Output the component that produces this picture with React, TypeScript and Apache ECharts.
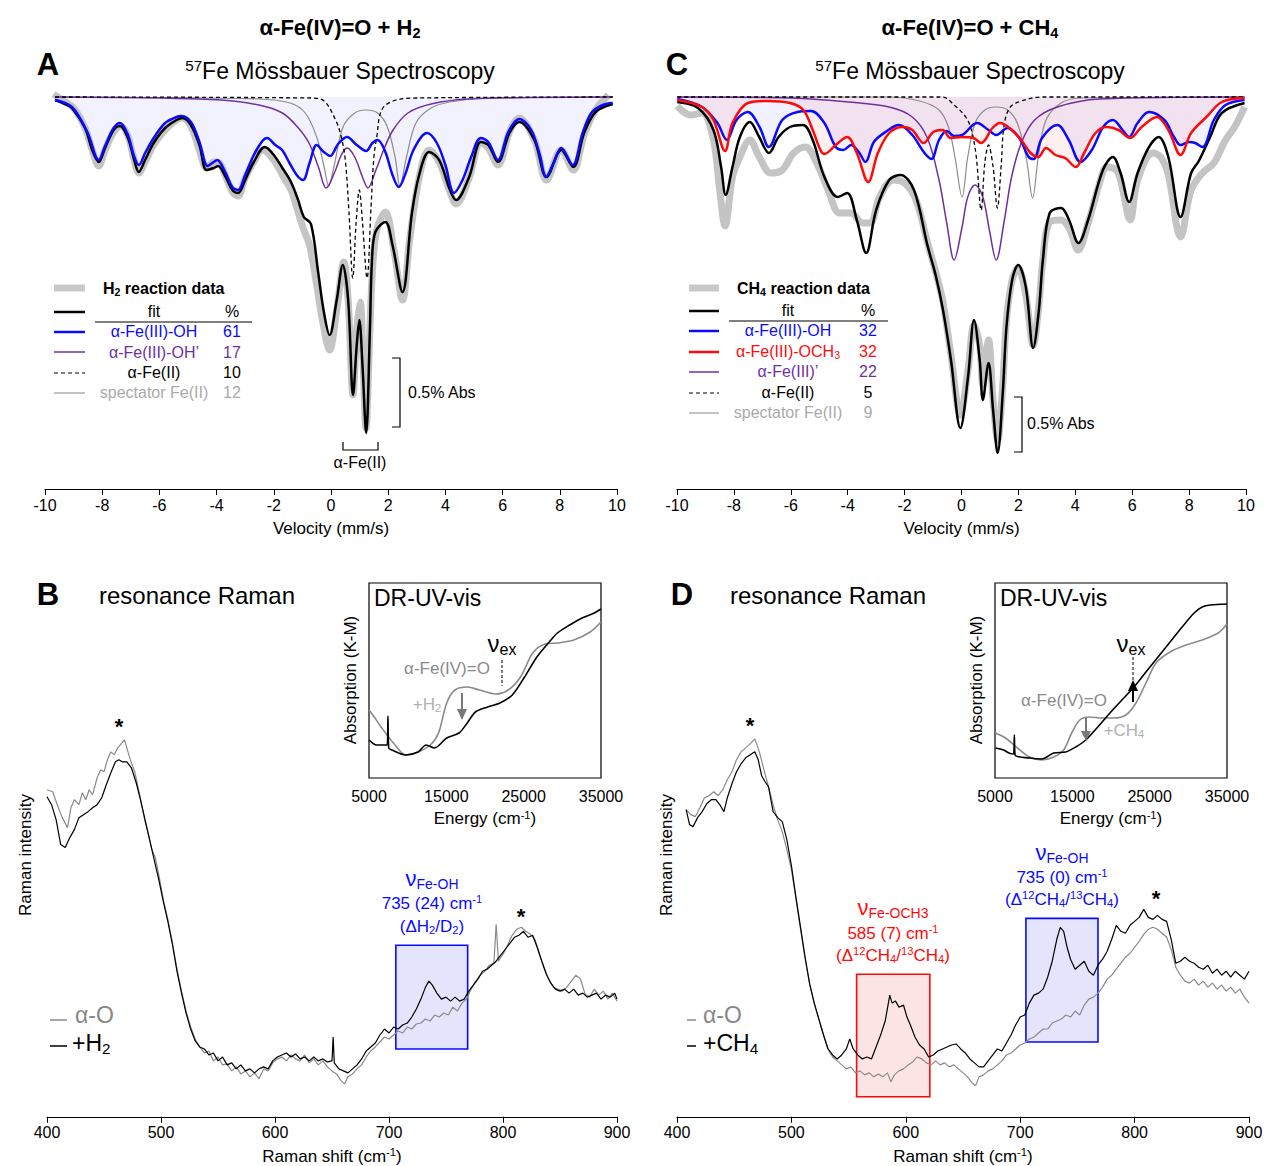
import React, { useEffect, useRef } from "react";
import * as echarts from "echarts";

const FONT = '"Liberation Sans", Arial, Helvetica, sans-serif';
const BLUE = "#0a0aff";
const RED = "#ff0a0a";
const PURPLE = "#7030a0";

// ---------- Panel A (Mössbauer, H2) : [velocity mm/s, absorption depth (a.u.)]
const A_data = [[-9.7,-3],[-9.4,3],[-9.0,11],[-8.6,31],[-8.35,53],[-8.12,69],[-7.9,53],[-7.6,35],[-7.35,29],[-7.1,39],[-6.9,61],[-6.72,76],[-6.5,65],[-6.2,48],[-5.8,33],[-5.4,23],[-5.2,21],[-4.9,29],[-4.6,53],[-4.35,71],[-4.1,65],[-3.9,66],[-3.7,78],[-3.45,95],[-3.25,99],[-3.0,81],[-2.7,65],[-2.4,53],[-2.0,63],[-1.7,78],[-1.4,93],[-1.15,115],[-0.95,133],[-0.75,148],[-0.5,188],[-0.3,223],[-0.05,253],[0.2,213],[0.45,165],[0.6,203],[0.77,298],[0.9,233],[1.02,205],[1.12,263],[1.22,331],[1.36,233],[1.45,173],[1.6,133],[1.9,115],[2.2,153],[2.5,203],[2.75,143],[3.1,78],[3.43,53],[3.78,65],[4.16,95],[4.37,107],[4.83,81],[5.24,45],[5.5,51],[5.84,68],[6.24,35],[6.58,21],[7.11,43],[7.54,83],[8.05,53],[8.47,73],[8.85,38],[9.25,13],[9.7,-2]];
const A_fit = [[-9.65,3],[-9.3,7],[-9.06,11],[-8.6,31],[-8.35,53],[-8.12,65],[-7.9,51],[-7.6,33],[-7.38,29],[-7.1,41],[-6.9,61],[-6.72,75],[-6.5,63],[-6.2,46],[-5.8,31],[-5.4,23],[-5.2,21],[-4.9,28],[-4.6,48],[-4.35,73],[-4.1,71],[-3.95,69],[-3.7,79],[-3.45,93],[-3.25,96],[-3.0,83],[-2.7,65],[-2.31,50],[-2.0,58],[-1.7,71],[-1.4,85],[-1.15,103],[-0.95,120],[-0.7,127],[-0.45,175],[-0.25,215],[-0.05,238],[0.2,203],[0.41,168],[0.6,203],[0.77,298],[0.9,248],[0.99,223],[1.1,268],[1.23,336],[1.36,233],[1.43,165],[1.55,135],[1.9,125],[2.15,148],[2.5,195],[2.83,116],[3.1,76],[3.43,55],[3.78,63],[4.16,93],[4.37,103],[4.83,80],[5.24,45],[5.5,48],[5.84,65],[6.24,36],[6.58,25],[7.11,43],[7.54,80],[8.05,53],[8.47,70],[8.85,36],[9.25,15],[9.85,7]];
const A_OH = [[-9.65,3],[-9.06,10],[-8.52,35],[-8.12,63],[-7.9,49],[-7.6,31],[-7.38,26],[-7.1,38],[-6.9,58],[-6.72,68],[-6.5,56],[-6.2,41],[-5.8,26],[-5.4,20],[-5.24,19],[-4.9,25],[-4.6,45],[-4.31,69],[-4.1,65],[-3.98,63],[-3.7,75],[-3.45,90],[-3.25,93],[-3.0,78],[-2.7,58],[-2.4,44],[-2.24,41],[-1.95,48],[-1.71,53],[-1.45,66],[-1.2,78],[-0.98,83],[-0.75,66],[-0.5,48],[-0.25,55],[-0.03,59],[0.25,47],[0.56,40],[0.9,48],[1.23,54],[1.45,46],[1.63,43],[1.9,55],[2.15,78],[2.37,90],[2.6,77],[2.9,52],[3.36,36],[3.7,46],[4.0,68],[4.3,96],[4.6,83],[4.9,60],[5.24,41],[5.5,45],[5.84,63],[6.2,35],[6.58,22],[7.0,33],[7.3,58],[7.52,80],[7.8,65],[8.05,51],[8.45,68],[8.8,36],[9.1,16],[9.5,8],[9.85,6]];
const A_OHp = [[-9.65,0],[-6,1],[-3.85,3],[-2.52,8],[-1.7,16],[-1.17,30],[-0.77,46],[-0.44,70],[-0.17,91],[0.16,73],[0.36,58],[0.56,51],[0.83,60],[1.1,80],[1.29,91],[1.57,73],[1.84,53],[2.17,33],[2.69,16],[3.5,7],[4.82,2],[9.85,0]];
const A_FeII = [[-9.65,0],[-0.7,1],[-0.24,4],[0.16,23],[0.36,40],[0.5,63],[0.63,116],[0.76,181],[0.88,125],[0.99,93],[1.1,125],[1.26,181],[1.4,110],[1.5,60],[1.6,40],[1.77,13],[2.17,4],[3.0,1],[9.85,0]];
const A_spec = [[-9.65,0],[-2.53,2],[-1.43,6],[-0.9,16],[-0.5,40],[-0.24,70],[-0.08,89],[0.1,70],[0.42,30],[0.83,16],[1.23,13],[1.63,16],[1.97,30],[2.24,60],[2.41,89],[2.64,60],[2.97,26],[3.5,11],[4.16,5],[5.47,1],[9.85,0]];

// ---------- Panel C (Mössbauer, CH4)
const C_data = [[-9.99,9],[-9.52,18],[-9.12,16],[-8.72,43],[-8.5,93],[-8.31,129],[-8.05,80],[-7.79,60],[-7.44,43],[-7.11,60],[-6.7,76],[-6.3,73],[-5.9,56],[-5.49,50],[-5.09,66],[-4.69,93],[-4.28,116],[-3.88,116],[-3.48,126],[-3.21,126],[-2.88,100],[-2.4,83],[-2.0,86],[-1.6,103],[-1.2,145],[-0.86,180],[-0.65,205],[-0.37,258],[-0.04,318],[0.23,273],[0.44,228],[0.64,248],[0.75,288],[0.95,243],[1.11,303],[1.27,343],[1.45,288],[1.58,223],[1.78,183],[1.99,171],[2.26,198],[2.52,248],[2.72,208],[2.86,163],[3.1,125],[3.5,123],[3.78,131],[4.1,153],[4.45,126],[4.97,75],[5.11,70],[5.5,75],[5.93,123],[6.19,83],[6.73,56],[7.0,60],[7.27,78],[7.7,140],[8.07,93],[8.47,76],[8.87,66],[9.28,43],[9.6,30],[9.95,10]];
const C_fit = [[-9.99,5],[-9.26,11],[-8.72,33],[-8.45,70],[-8.29,98],[-8.05,70],[-7.79,40],[-7.44,25],[-7.11,40],[-6.77,56],[-6.43,40],[-6.03,30],[-5.57,28],[-5.23,43],[-4.82,80],[-4.35,100],[-4.02,96],[-3.68,123],[-3.35,156],[-3.0,113],[-2.54,83],[-2.14,78],[-1.67,93],[-1.2,148],[-0.91,178],[-0.65,213],[-0.37,263],[-0.04,331],[0.23,280],[0.44,223],[0.64,263],[0.75,303],[0.95,266],[1.11,313],[1.27,356],[1.45,296],[1.58,230],[1.78,183],[1.99,168],[2.26,190],[2.52,251],[2.72,213],[2.86,163],[3.1,116],[3.5,111],[3.78,123],[4.11,146],[4.45,123],[4.97,73],[5.32,60],[5.59,76],[5.89,105],[6.19,76],[6.59,50],[6.93,40],[7.27,60],[7.7,120],[8.07,76],[8.34,64],[8.74,40],[9.15,16],[9.95,6]];
const C_OH = [[-9.99,2],[-9.12,10],[-8.58,26],[-8.25,43],[-7.91,23],[-7.51,15],[-7.1,30],[-6.77,50],[-6.3,23],[-5.76,15],[-5.29,14],[-4.82,26],[-4.42,50],[-4.15,53],[-3.88,48],[-3.61,55],[-3.38,65],[-3.08,45],[-2.67,35],[-2.2,28],[-1.73,38],[-1.33,55],[-1.06,62],[-0.79,43],[-0.52,34],[-0.25,39],[0.02,38],[0.55,26],[0.95,33],[1.22,38],[1.62,31],[2.03,41],[2.36,60],[2.54,62],[2.83,41],[3.37,28],[3.77,43],[4.18,65],[4.58,53],[4.98,30],[5.32,23],[5.66,33],[5.89,40],[6.19,26],[6.59,15],[7.13,23],[7.47,40],[7.7,48],[8.0,45],[8.21,46],[8.47,50],[8.87,23],[9.28,8],[9.95,3]];
const C_OCH3 = [[-9.99,3],[-9.12,10],[-8.72,23],[-8.31,54],[-8.05,26],[-7.51,6],[-6.84,4],[-6.03,6],[-5.56,13],[-5.23,33],[-4.96,53],[-4.82,57],[-4.42,48],[-4.02,40],[-3.68,56],[-3.28,85],[-2.94,56],[-2.54,36],[-2.07,30],[-1.73,33],[-1.33,46],[-0.99,35],[-0.66,33],[-0.39,41],[0.02,40],[0.42,41],[0.69,46],[1.09,31],[1.36,26],[1.76,33],[2.1,43],[2.43,56],[2.7,60],[2.97,51],[3.3,58],[3.64,61],[4.02,70],[4.31,56],[4.71,36],[5.11,30],[5.52,33],[5.93,41],[6.33,30],[6.87,20],[7.27,33],[7.7,58],[8.07,36],[8.61,20],[9.15,5],[9.95,1]];
const C_FeIIIp = [[-9.99,0],[-6,1],[-3.97,5],[-2.54,10],[-1.73,20],[-1.2,41],[-0.79,83],[-0.52,126],[-0.26,163],[0.02,130],[0.22,100],[0.48,88],[0.75,100],[0.98,133],[1.22,163],[1.49,126],[1.76,80],[2.1,46],[2.57,23],[3.37,10],[4.85,2],[9.95,0]];
const C_FeII = [[-9.99,0],[-0.66,0],[-0.26,8],[0.15,20],[0.35,33],[0.52,60],[0.69,113],[0.82,66],[0.95,48],[1.11,70],[1.26,111],[1.4,66],[1.49,30],[1.69,11],[2.1,4],[2.83,0],[9.95,0]];
const C_spec = [[-9.99,0],[-2.54,0],[-1.47,4],[-0.79,13],[-0.46,30],[-0.23,60],[0.02,100],[0.22,60],[0.48,26],[0.82,13],[1.22,10],[1.62,13],[1.96,26],[2.27,60],[2.5,101],[2.7,60],[2.97,23],[3.5,6],[4.18,1],[9.95,0]];

// ---------- Panel B (Raman, H2) : [Raman shift cm-1, intensity a.u.]
const B_alphaO = [[400,328],[405,326],[410,310],[413,301],[418,290],[421,310],[424,318],[428,313],[431,325],[434,318],[437,328],[440,323],[444,340],[447,348],[450,346],[453,358],[456,366],[459,363],[462,370],[465,374],[468,378],[471,366],[474,355],[477,346],[480,330],[483,313],[486,296],[489,283],[492,268],[495,260],[498,243],[502,218],[506,198],[510,175],[514,148],[518,126],[522,106],[526,90],[530,78],[534,70],[538,64],[542,66],[546,56],[550,60],[554,52],[558,53],[562,46],[566,50],[570,43],[574,46],[578,40],[582,44],[586,38],[590,48],[594,46],[598,54],[602,58],[606,60],[610,56],[614,62],[618,58],[622,56],[626,62],[630,54],[634,58],[638,52],[642,56],[646,50],[650,46],[654,43],[658,36],[661,33],[664,40],[668,43],[672,48],[676,52],[680,60],[684,66],[688,70],[692,75],[696,80],[700,78],[704,82],[708,86],[712,84],[716,90],[720,88],[724,93],[728,94],[732,98],[736,96],[740,102],[744,100],[748,104],[752,102],[756,110],[760,106],[764,114],[768,118],[772,128],[776,136],[780,142],[784,146],[788,152],[792,154],[794,193],[796,156],[800,163],[804,172],[808,182],[812,188],[816,190],[820,186],[824,183],[828,178],[832,163],[836,150],[840,138],[844,130],[848,128],[852,126],[856,130],[860,136],[864,142],[868,138],[872,123],[876,120],[880,128],[884,122],[888,126],[892,118],[896,124],[900,116]];
const B_H2 = [[400,321],[404,313],[408,298],[412,273],[416,270],[420,280],[424,288],[428,300],[432,303],[436,306],[440,310],[444,313],[448,320],[452,333],[456,345],[460,356],[463,358],[466,356],[470,356],[474,350],[478,336],[482,318],[486,298],[490,278],[494,258],[498,238],[502,216],[506,196],[510,173],[514,146],[518,124],[522,104],[526,88],[530,76],[534,70],[538,68],[542,62],[546,64],[550,56],[554,60],[558,52],[562,54],[566,48],[570,52],[574,46],[578,48],[582,44],[586,48],[590,50],[594,48],[598,56],[602,60],[606,62],[610,64],[614,60],[618,63],[622,58],[626,60],[630,56],[634,60],[638,56],[642,58],[646,55],[650,56],[651,80],[652,54],[656,48],[660,46],[664,44],[668,48],[672,52],[676,58],[680,66],[684,70],[688,74],[692,82],[696,88],[700,84],[704,90],[708,88],[712,92],[716,94],[720,100],[724,108],[728,118],[732,130],[735,136],[738,132],[742,124],[746,118],[750,120],[754,116],[758,120],[762,116],[766,118],[770,126],[774,132],[778,138],[782,146],[786,148],[790,152],[794,156],[798,162],[802,168],[806,174],[810,180],[814,182],[818,186],[822,180],[826,182],[830,170],[834,156],[838,143],[842,134],[846,128],[850,126],[854,128],[858,124],[862,128],[866,122],[870,124],[874,120],[878,122],[882,124],[886,118],[890,122],[894,120],[898,124],[900,118]];
const B_box = [[{ xAxis: 706, yAxis: 68 }, { xAxis: 769, yAxis: 172 }]];

// ---------- Panel D (Raman, CH4)
const D_alphaO = [[408,308],[412,303],[416,301],[420,310],[424,320],[428,322],[432,326],[436,322],[440,328],[444,338],[448,346],[452,358],[456,366],[460,370],[464,374],[468,379],[472,366],[476,348],[480,331],[484,313],[488,298],[492,286],[496,268],[500,248],[504,218],[508,188],[512,158],[516,133],[520,113],[524,98],[528,83],[532,68],[536,60],[540,56],[544,52],[548,48],[552,50],[556,44],[560,46],[564,42],[568,44],[572,40],[576,43],[580,40],[584,44],[587,35],[590,42],[594,46],[598,48],[602,52],[606,55],[610,60],[614,58],[618,54],[622,52],[626,56],[630,52],[634,54],[638,50],[642,52],[646,48],[650,44],[654,40],[658,34],[661,31],[664,40],[668,42],[672,46],[676,48],[680,52],[684,56],[688,62],[692,64],[696,68],[700,72],[704,74],[708,78],[712,80],[716,84],[720,88],[724,88],[728,94],[732,96],[736,98],[740,102],[744,100],[748,106],[752,102],[756,112],[760,118],[764,120],[768,124],[772,130],[776,138],[780,142],[784,148],[788,154],[792,160],[796,164],[800,170],[804,176],[808,183],[812,188],[816,190],[820,188],[824,184],[828,180],[832,168],[836,150],[840,142],[844,136],[848,134],[852,138],[856,132],[860,136],[864,130],[868,134],[872,128],[876,132],[880,126],[884,130],[888,124],[892,128],[896,120],[900,114]];
const D_CH4 = [[408,308],[411,293],[414,291],[418,300],[422,306],[426,314],[430,318],[434,318],[438,312],[441,306],[444,320],[448,334],[452,346],[456,354],[460,360],[464,363],[468,366],[471,358],[474,342],[477,336],[480,331],[484,306],[488,300],[492,296],[496,278],[500,252],[504,220],[508,190],[512,160],[516,133],[520,114],[524,98],[528,82],[532,68],[536,62],[540,58],[544,62],[548,68],[551,78],[554,68],[558,62],[562,58],[566,60],[570,58],[574,70],[578,82],[582,96],[586,122],[588,114],[591,116],[594,110],[598,112],[601,100],[604,92],[608,80],[612,72],[616,68],[620,60],[624,62],[628,66],[632,68],[636,70],[640,72],[644,73],[648,68],[652,64],[656,58],[660,54],[664,50],[668,50],[672,56],[676,62],[680,68],[684,66],[688,74],[692,82],[696,92],[700,100],[704,102],[708,114],[712,122],[716,124],[720,128],[724,140],[728,156],[732,178],[735,190],[738,186],[741,170],[744,158],[748,148],[752,152],[756,156],[760,146],[764,142],[768,152],[772,158],[776,166],[780,178],[784,192],[788,186],[792,184],[796,192],[800,196],[804,200],[808,208],[812,200],[816,198],[820,202],[824,198],[828,196],[832,178],[836,154],[840,156],[844,160],[848,156],[852,154],[856,150],[860,148],[864,152],[868,144],[872,148],[876,142],[880,146],[884,140],[888,146],[892,142],[896,138],[900,146]];
const D_boxOCH3 = [[{ xAxis: 557, yAxis: 20 }, { xAxis: 621, yAxis: 143 }]];
const D_boxOH = [[{ xAxis: 705, yAxis: 75 }, { xAxis: 768, yAxis: 199 }]];

// ---------- Insets (DR-UV-vis): [energy cm-1, K-M a.u.]
const UVB_alphaO = [[5000,68],[5500,63],[6570,51],[8160,35],[9750,23],[11340,26],[12930,33],[13990,45],[15050,75],[16110,88],[17700,91],[19290,88],[21410,84],[23000,88],[24590,101],[26180,125],[27770,134],[29360,135],[31480,138],[33600,146],[35000,156]];
const UVB_H2 = [[5000,38],[6000,33],[7000,33],[7350,33],[7450,62],[7550,30],[7950,28],[9750,23],[11340,26],[12400,33],[13460,30],[15050,40],[16640,45],[17700,55],[18760,66],[20350,71],[21940,75],[23530,83],[25120,101],[26710,121],[28300,136],[29360,145],[30950,153],[32540,160],[34130,165],[35000,169]];
const UVD_alphaO = [[5050,45],[6360,40],[7910,30],[9470,21],[11030,18],[12590,21],[13880,28],[14920,45],[15960,58],[17260,61],[18810,60],[20370,60],[21930,63],[23230,75],[24520,95],[25820,115],[27640,126],[29720,133],[31790,138],[33870,145],[35000,154]];
const UVD_CH4 = [[5050,30],[6100,28],[6800,25],[7400,24],[7500,43],[7600,23],[9470,20],[11030,19],[12590,25],[14140,26],[15440,31],[16740,38],[18290,51],[19860,65],[21410,78],[22970,91],[24520,106],[26080,121],[27640,136],[29200,151],[30750,165],[31790,171],[32840,173],[35000,174]];
const UV_TICKS = [5000, 15000, 25000, 35000];

// ---------- helpers
function rich(fs: number, fill: string, fw: string, subFs?: number) {
  const s = subFs ?? fs * 0.66;
  return {
    sub: { fontSize: s, fontFamily: FONT, fontWeight: fw, fill, color: fill, padding: [fs * 0.5, 0, 0, 0] },
    sup: { fontSize: s, fontFamily: FONT, fontWeight: fw, fill, color: fill, padding: [0, 0, fs * 0.5, 0] },
  };
}
function T(x: number, y: number, text: string, o: any = {}) {
  const fs = o.fs ?? 16;
  const fill = o.fill ?? "#000";
  const fw = o.fw ?? "normal";
  return {
    type: "text", x, y, rotation: o.rot ?? 0, silent: true, z: 100,
    style: {
      text, fontSize: fs, fontFamily: FONT, fontWeight: fw, fill,
      align: o.align ?? "center", verticalAlign: "middle",
      rich: rich(fs, fill, fw, o.subFs),
    },
  };
}
function L(points: number[][], stroke = "#000", lineWidth = 1, dash?: number[]) {
  return {
    type: "polyline", silent: true, z: 100,
    shape: { points },
    style: { stroke, lineWidth, fill: null, lineDash: dash },
  };
}
function P(points: number[][], fill: string) {
  return { type: "polygon", silent: true, z: 100, shape: { points }, style: { fill } };
}

const moss = (data: number[][], xi: number, color: string, width: number, z: number, extra: any = {}) => ({
  type: "line", xAxisIndex: xi, yAxisIndex: xi, data, symbol: "none", smooth: 0.35, z,
  lineStyle: { color, width, ...(extra.lineStyle || {}) }, silent: true,
});
const areaOnly = (data: number[][], xi: number, color: string) => ({
  type: "line", xAxisIndex: xi, yAxisIndex: xi, data, symbol: "none", smooth: 0.35, z: 1,
  lineStyle: { width: 0, opacity: 0 }, areaStyle: { color, origin: "auto" }, silent: true,
});
const raman = (data: number[][], xi: number, color: string, z: number) => ({
  type: "line", xAxisIndex: xi, yAxisIndex: xi, data, symbol: "none", z, silent: true,
  lineStyle: { color, width: 1.2 },
});

export default function App() {
  const ref = useRef<HTMLDivElement>(null);
  useEffect(() => {
    if (!ref.current) return;
    const chart = echarts.init(ref.current, undefined, { renderer: "svg" });
    const axisName = (name: string, gap: number, fs = 17) => ({
      name, nameLocation: "middle", nameGap: gap,
      nameTextStyle: { fontSize: fs, fontFamily: FONT, color: "#000", rich: rich(fs, "#000", "normal") },
    });
    const velAxis = (gi: number) => ({
      type: "value", gridIndex: gi, min: -10, max: 10, interval: 2,
      axisLine: { show: true, onZero: false, lineStyle: { color: "#000", width: 1.2 } },
      axisTick: { show: true, inside: false, length: 6, lineStyle: { color: "#000" } },
      axisLabel: { fontSize: 16, fontFamily: FONT, color: "#000", margin: 8 },
      splitLine: { show: false },
      ...axisName("Velocity (mm/s)", 31),
    });
    const ramAxis = (gi: number) => ({
      type: "value", gridIndex: gi, min: 400, max: 900, interval: 100,
      axisLine: { show: true, onZero: false, lineStyle: { color: "#000", width: 1.2 } },
      axisTick: { show: true, inside: false, length: 6, lineStyle: { color: "#000" } },
      axisLabel: { fontSize: 16, fontFamily: FONT, color: "#000", margin: 8 },
      splitLine: { show: false },
      ...axisName("Raman shift (cm{sup|-1})", 30),
    });
    const uvAxis = (gi: number) => ({
      type: "value", gridIndex: gi, min: 5000, max: 35000,
      axisLine: { show: false },
      axisTick: { show: false },
      axisLabel: {
        fontSize: 16, fontFamily: FONT, color: "#000", margin: 10, customValues: UV_TICKS,
        formatter: (v: number) => String(v),
      },
      splitLine: { show: false },
      ...axisName("Energy (cm{sup|-1})", 31),
    });
    const hidY = (gi: number, min: number, max: number, inverse = false) => ({
      type: "value", gridIndex: gi, min, max, inverse, show: false, splitLine: { show: false },
    });

    const graphic: any[] = [
      // titles
      T(340, 27, "α-Fe(IV)=O + H{sub|2}", { fs: 22, fw: "bold" }),
      T(970, 27, "α-Fe(IV)=O + CH{sub|4}", { fs: 22, fw: "bold" }),
      T(48, 64, "A", { fs: 31, fw: "bold" }),
      T(677, 64, "C", { fs: 31, fw: "bold" }),
      T(340, 71, "{sup|57}Fe Mössbauer Spectroscopy", { fs: 23 }),
      T(970, 71, "{sup|57}Fe Mössbauer Spectroscopy", { fs: 23 }),
      T(48, 594, "B", { fs: 31, fw: "bold" }),
      T(682, 594, "D", { fs: 31, fw: "bold" }),
      T(197, 595, "resonance Raman", { fs: 24 }),
      T(828, 595, "resonance Raman", { fs: 24 }),
      // legend A
      L([[54, 288], [85, 288]], "#c8c8c8", 7),
      T(103, 288, "H{sub|2} reaction data", { fs: 16, fw: "bold", align: "left" }),
      L([[54, 312], [85, 312]], "#000", 2.5),
      T(154, 311, "fit"), T(232, 311, "%"),
      L([[95, 322], [252, 322]], "#000", 1),
      L([[54, 332], [85, 332]], BLUE, 2.5),
      T(154, 331, "α-Fe(III)-OH", { fill: BLUE }), T(232, 331, "61", { fill: BLUE }),
      L([[54, 352], [85, 352]], PURPLE, 1.5),
      T(154, 352, "α-Fe(III)-OH’", { fill: PURPLE }), T(232, 352, "17", { fill: PURPLE }),
      L([[54, 373], [85, 373]], "#000", 1.2, [4, 3]),
      T(154, 372, "α-Fe(II)"), T(232, 372, "10"),
      L([[54, 393], [85, 393]], "#999", 1.2),
      T(154, 392, "spectator Fe(II)", { fill: "#aaa" }), T(232, 392, "12", { fill: "#aaa" }),
      // scale bars A
      L([[392, 358], [400, 358], [400, 427], [392, 427]], "#000", 1.2),
      T(408, 392, "0.5% Abs", { align: "left" }),
      L([[343, 442], [343, 450], [378, 450], [378, 442]], "#000", 1.2),
      T(360, 462, "α-Fe(II)"),
      // legend C
      L([[689, 288], [719, 288]], "#c8c8c8", 7),
      T(737, 288, "CH{sub|4} reaction data", { fs: 16, fw: "bold", align: "left" }),
      L([[689, 311], [719, 311]], "#000", 2.5),
      T(788, 310, "fit"), T(868, 310, "%"),
      L([[729, 321], [888, 321]], "#000", 1),
      L([[689, 331], [719, 331]], BLUE, 2.5),
      T(788, 330, "α-Fe(III)-OH", { fill: BLUE }), T(868, 330, "32", { fill: BLUE }),
      L([[689, 352], [719, 352]], RED, 2.5),
      T(788, 351, "α-Fe(III)-OCH{sub|3}", { fill: RED }), T(868, 351, "32", { fill: RED }),
      L([[689, 372], [719, 372]], PURPLE, 1.5),
      T(788, 371, "α-Fe(III)’", { fill: PURPLE }), T(868, 371, "22", { fill: PURPLE }),
      L([[689, 393], [719, 393]], "#000", 1.2, [4, 3]),
      T(788, 392, "α-Fe(II)"), T(868, 392, "5"),
      L([[689, 413], [719, 413]], "#999", 1.2),
      T(788, 412, "spectator Fe(II)", { fill: "#aaa" }), T(868, 412, "9", { fill: "#aaa" }),
      L([[1014, 397], [1022, 397], [1022, 452], [1014, 452]], "#000", 1.2),
      T(1027, 423, "0.5% Abs", { align: "left" }),
      // Raman B annotations
      T(25, 855, "Raman intensity", { fs: 17, rot: Math.PI / 2 }),
      T(119, 726, "*", { fs: 22, fw: "bold" }),
      T(521, 916, "*", { fs: 22, fw: "bold" }),
      T(432, 878, "ν{sub|Fe-OH}", { fs: 22, fill: BLUE, subFs: 14 }),
      T(432, 903, "735 (24) cm{sup|-1}", { fs: 17, fill: BLUE }),
      T(432, 926, "(ΔH{sub|2}/D{sub|2})", { fs: 17, fill: BLUE }),
      L([[50, 1020], [67, 1020]], "#888", 1.5),
      T(75, 1015, "α-O", { fs: 23, fill: "#888", align: "left" }),
      L([[50, 1046], [67, 1046]], "#000", 1.5),
      T(72, 1043, "+H{sub|2}", { fs: 23, align: "left" }),
      // Raman D annotations
      T(666, 855, "Raman intensity", { fs: 17, rot: Math.PI / 2 }),
      T(750, 725, "*", { fs: 22, fw: "bold" }),
      T(1156, 898, "*", { fs: 22, fw: "bold" }),
      T(893, 907, "ν{sub|Fe-OCH3}", { fs: 22, fill: RED, subFs: 14 }),
      T(893, 933, "585 (7) cm{sup|-1}", { fs: 17, fill: RED }),
      T(893, 955, "(Δ{sup|12}CH{sub|4}/{sup|13}CH{sub|4})", { fs: 17, fill: RED }),
      T(1062, 852, "ν{sub|Fe-OH}", { fs: 22, fill: BLUE, subFs: 14 }),
      T(1062, 877, "735 (0) cm{sup|-1}", { fs: 17, fill: BLUE }),
      T(1062, 899, "(Δ{sup|12}CH{sub|4}/{sup|13}CH{sub|4})", { fs: 17, fill: BLUE }),
      L([[687, 1020], [696, 1020]], "#888", 1.5),
      T(703, 1015, "α-O", { fs: 23, fill: "#888", align: "left" }),
      L([[687, 1046], [696, 1046]], "#000", 1.5),
      T(703, 1043, "+CH{sub|4}", { fs: 23, align: "left" }),
      // inset B
      T(374, 598, "DR-UV-vis", { fs: 23, align: "left" }),
      T(350, 680, "Absorption (K-M)", { fs: 17, rot: Math.PI / 2 }),
      T(502, 643, "ν{sub|ex}", { fs: 24, subFs: 16 }),
      L([[502, 660], [502, 686]], "#000", 1, [3, 2]),
      T(447, 668, "α-Fe(IV)=O", { fs: 17, fill: "#8a8a8a" }),
      T(427, 704, "+H{sub|2}", { fs: 17, fill: "#b0b0b0" }),
      L([[462, 693], [462, 711]], "#777", 2),
      P([[457, 709], [467, 709], [462, 720]], "#777"),
      // inset D
      T(1000, 598, "DR-UV-vis", { fs: 23, align: "left" }),
      T(976, 680, "Absorption (K-M)", { fs: 17, rot: Math.PI / 2 }),
      T(1131, 643, "ν{sub|ex}", { fs: 24, subFs: 16 }),
      L([[1133, 657], [1133, 683]], "#000", 1, [3, 2]),
      T(1064, 700, "α-Fe(IV)=O", { fs: 17, fill: "#8a8a8a" }),
      T(1124, 730, "+CH{sub|4}", { fs: 17, fill: "#b0b0b0" }),
      L([[1086, 718], [1086, 733]], "#777", 2),
      P([[1081, 731], [1091, 731], [1086, 741]], "#777"),
      L([[1133, 702], [1133, 689]], "#000", 2),
      P([[1128, 691], [1138, 691], [1133, 680]], "#000"),
    ];

    const boxSeries = (xi: number, data: any[], fill: string, border: string) => ({
      type: "line", xAxisIndex: xi, yAxisIndex: xi, data: [], symbol: "none", silent: true, z: 1,
      markArea: { silent: true, data, itemStyle: { color: fill, borderColor: border, borderWidth: 1.6 } },
    });

    const option: any = {
      animation: false,
      backgroundColor: "#fff",
      textStyle: { fontFamily: FONT },
      grid: [
        { left: 45, top: 84, width: 572, height: 405 },
        { left: 677, top: 84, width: 569, height: 405 },
        { left: 47, top: 700, width: 570, height: 418 },
        { left: 677, top: 700, width: 572, height: 418 },
        { left: 369, top: 583, width: 232, height: 195, show: true, borderColor: "#000", borderWidth: 1.2, backgroundColor: "transparent" },
        { left: 995, top: 583, width: 232, height: 195, show: true, borderColor: "#000", borderWidth: 1.2, backgroundColor: "transparent" },
      ],
      xAxis: [velAxis(0), velAxis(1), ramAxis(2), ramAxis(3), uvAxis(4), uvAxis(5)],
      yAxis: [
        hidY(0, -13, 392, true), hidY(1, -13, 392, true),
        hidY(2, 0, 418), hidY(3, 0, 418),
        hidY(4, 0, 195), hidY(5, 0, 195),
      ],
      graphic,
      series: [
        // A
        areaOnly(A_OH, 0, "rgba(160,160,250,0.2)"),
        moss(A_data, 0, "#c4c4c4", 7, 2),
        moss(A_spec, 0, "#8c8c8c", 1.2, 3),
        moss(A_OHp, 0, PURPLE, 1.5, 3),
        moss(A_FeII, 0, "#000", 1.3, 3, { lineStyle: { type: [4, 3] } }),
        moss(A_fit, 0, "#000", 2.5, 4),
        moss(A_OH, 0, BLUE, 2.5, 5),
        // C
        areaOnly(C_OH, 1, "rgba(90,90,255,0.12)"),
        areaOnly(C_OCH3, 1, "rgba(255,60,60,0.12)"),
        moss(C_data, 1, "#c4c4c4", 7, 2),
        moss(C_spec, 1, "#8c8c8c", 1.2, 3),
        moss(C_FeIIIp, 1, PURPLE, 1.5, 3),
        moss(C_FeII, 1, "#000", 1.3, 3, { lineStyle: { type: [4, 3] } }),
        moss(C_fit, 1, "#000", 2.5, 4),
        moss(C_OH, 1, BLUE, 2.5, 5),
        moss(C_OCH3, 1, RED, 2.5, 6),
        // B
        boxSeries(2, B_box, "rgba(205,205,250,0.55)", BLUE),
        raman(B_alphaO, 2, "#8a8a8a", 3),
        raman(B_H2, 2, "#000", 4),
        // D
        boxSeries(3, D_boxOCH3, "rgba(250,205,205,0.55)", RED),
        boxSeries(3, D_boxOH, "rgba(205,205,250,0.55)", BLUE),
        raman(D_alphaO, 3, "#8a8a8a", 3),
        raman(D_CH4, 3, "#000", 4),
        // insets
        { type: "line", xAxisIndex: 4, yAxisIndex: 4, data: UVB_alphaO, symbol: "none", smooth: 0.3, silent: true, z: 3, lineStyle: { color: "#8a8a8a", width: 1.6 } },
        { type: "line", xAxisIndex: 4, yAxisIndex: 4, data: UVB_H2, symbol: "none", smooth: 0.3, silent: true, z: 4, lineStyle: { color: "#000", width: 1.6 } },
        { type: "line", xAxisIndex: 5, yAxisIndex: 5, data: UVD_alphaO, symbol: "none", smooth: 0.3, silent: true, z: 3, lineStyle: { color: "#8a8a8a", width: 1.6 } },
        { type: "line", xAxisIndex: 5, yAxisIndex: 5, data: UVD_CH4, symbol: "none", smooth: 0.3, silent: true, z: 4, lineStyle: { color: "#000", width: 1.6 } },
      ],
    };
    chart.setOption(option);
    return () => chart.dispose();
  }, []);
  return (
    <div
      ref={ref}
      style={{ position: "absolute", left: 0, top: 0, width: 1267, height: 1166, background: "#fff" }}
    />
  );
}
